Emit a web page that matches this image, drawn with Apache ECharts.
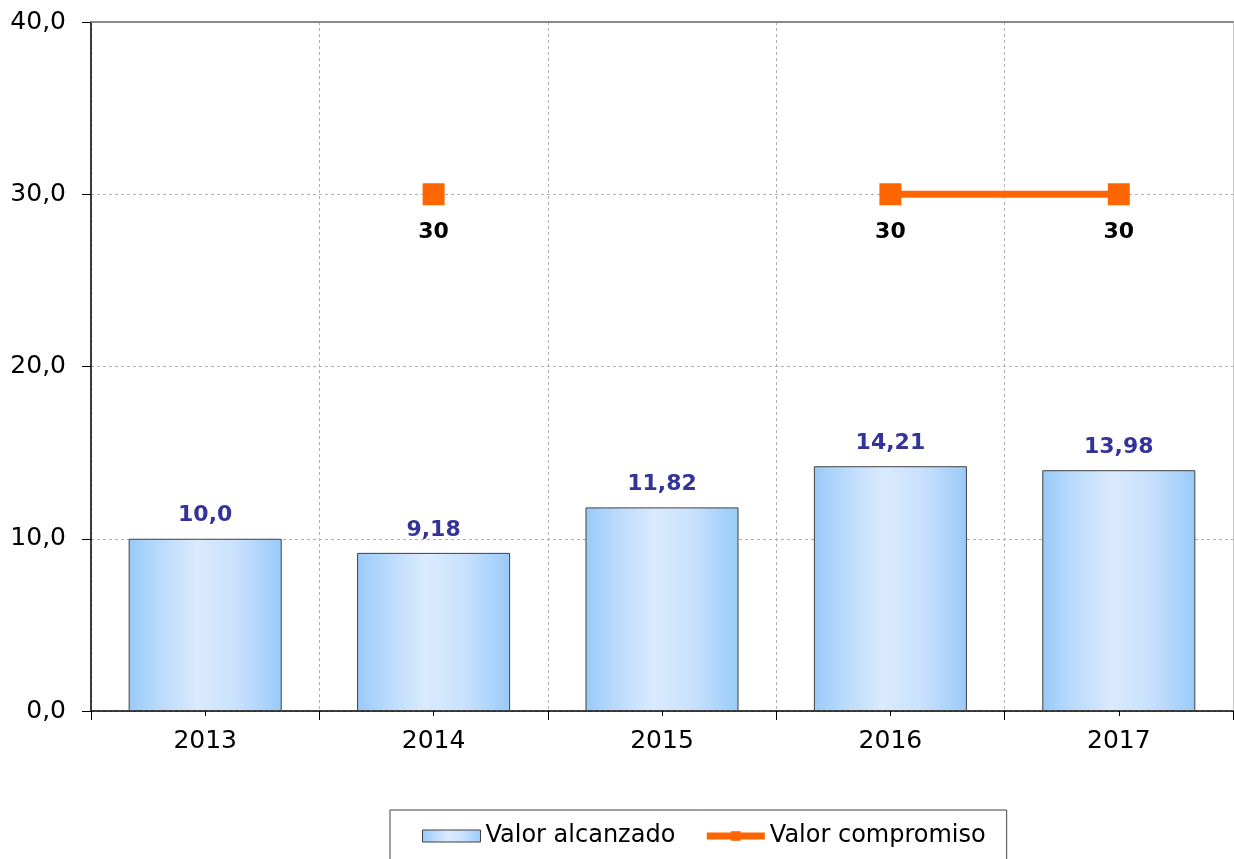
<!DOCTYPE html>
<html>
<head>
<meta charset="utf-8">
<script src="https://cdn.jsdelivr.net/npm/echarts@6/dist/echarts.min.js"></script>
<style>html,body{margin:0;padding:0;background:#fff}#c{width:1234px;height:859px}</style>
</head>
<body>
<div id="c"></div>
<script>
var categories = ['2013', '2014', '2015', '2016', '2017'];
var alcanzado = [10.0, 9.18, 11.82, 14.21, 13.98];
var alcanzadoLabels = ['10,0', '9,18', '11,82', '14,21', '13,98'];
var compromiso = [null, 30, null, 30, 30];
var yTicks = [0, 10, 20, 30, 40];

var chart = echarts.init(document.getElementById('c'));
var font = '"DejaVu Sans", sans-serif';
chart.setOption({
  animation: false,
  backgroundColor: '#fff',
  grid: { left: 91, right: 1, top: 22, bottom: 148 },
  legend: {
    left: 390, top: 810,
    padding: [14, 21, 30, 32],
    borderColor: '#404040', borderWidth: 1,
    itemGap: 28,
    itemWidth: 58, itemHeight: 12,
    textStyle: { fontFamily: font, fontSize: 24, color: '#000' },
    data: [
      { name: 'Valor alcanzado', icon: 'rect', itemStyle: { borderColor: '#404040', borderWidth: 1 } },
      { name: 'Valor compromiso', lineStyle: { width: 7, color: '#ff6600' } }
    ]
  },
  xAxis: [
    {
      type: 'category', data: categories, position: 'bottom', offset: 0,
      axisLine: { lineStyle: { color: '#000', width: 1.5 } },
      axisTick: { show: true, length: 9, lineStyle: { color: '#000' } },
      axisLabel: { fontFamily: font, fontSize: 25, color: '#000', margin: 18 },
      splitLine: { show: true, lineStyle: { color: '#b0b0b0', type: [3, 3], width: 1 } }
    },
    {
      type: 'category', data: categories, position: 'bottom', offset: 0,
      axisLine: { show: false },
      axisTick: { show: true, alignWithLabel: true, length: 5, lineStyle: { color: '#000' } },
      axisLabel: { show: false }, splitLine: { show: false }
    },
    {
      type: 'category', data: categories, position: 'top', offset: 0,
      axisLine: { show: true, lineStyle: { color: '#8a8a8a', width: 2 } },
      axisTick: { show: false }, axisLabel: { show: false }, splitLine: { show: false }
    }
  ],
  yAxis: [
    {
      type: 'value', min: yTicks[0], max: yTicks[yTicks.length - 1], interval: 10,
      axisLine: { show: true, lineStyle: { color: '#000', width: 1.5 } },
      axisTick: { show: true, length: 9, lineStyle: { color: '#000' } },
      axisLabel: { fontFamily: font, fontSize: 25, color: '#000', margin: 25,
        formatter: function (v) { return v.toFixed(1).replace('.', ','); } },
      splitLine: { show: true, lineStyle: { color: '#b0b0b0', type: [3, 3], width: 1 } }
    },
    {
      type: 'value', min: 0, max: 40, interval: 10, position: 'right',
      axisLine: { show: true, lineStyle: { color: '#c8c8c8', width: 1 } },
      axisTick: { show: false }, axisLabel: { show: false }, splitLine: { show: false }
    }
  ],
  series: [
    {
      name: 'Valor alcanzado', type: 'bar', xAxisIndex: 0, yAxisIndex: 0,
      data: alcanzado, barCategoryGap: '33%',
      itemStyle: {
        color: new echarts.graphic.LinearGradient(0, 0, 1, 0, [
          { offset: 0, color: '#99caf9' },
          { offset: 0.2, color: '#b9dafc' },
          { offset: 0.45, color: '#dbeafd' },
          { offset: 0.7, color: '#c9e1fd' },
          { offset: 1, color: '#99caf9' }
        ]),
        borderColor: '#404040', borderWidth: 1
      },
      label: {
        show: true, position: 'top', distance: 12,
        fontFamily: font, fontSize: 22, fontWeight: 'bold', color: '#333399',
        formatter: function (p) { return alcanzadoLabels[p.dataIndex]; }
      }
    },
    {
      name: 'Valor compromiso', type: 'line', xAxisIndex: 0, yAxisIndex: 0,
      data: compromiso, connectNulls: false,
      lineStyle: { color: '#ff6600', width: 7 },
      itemStyle: { color: '#ff6600' },
      symbol: 'rect', symbolSize: 22, showAllSymbol: true,
      label: {
        show: true, position: 'bottom', distance: 16,
        fontFamily: font, fontSize: 22, fontWeight: 'bold', color: '#000'
      }
    }
  ]
});
</script>
</body>
</html>
